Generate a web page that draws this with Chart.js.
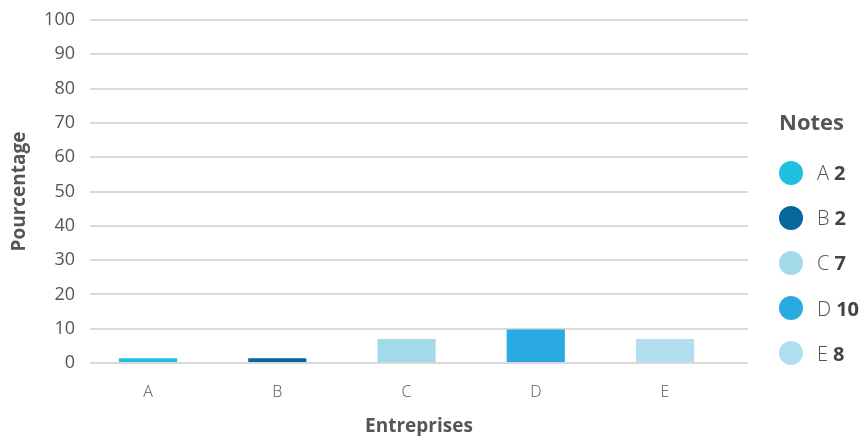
<!DOCTYPE html>
<html lang="fr">
<head>
    <meta charset="UTF-8">
    <title>Notes - Entreprises</title>
    <script src="https://cdn.jsdelivr.net/npm/chart.js"></script>
    <style>
        body { margin: 0; background: #fff; font-family: "Open Sans", sans-serif; }
        .wrap { position: relative; width: 860px; height: 436px; }
        #notes { position: absolute; left: 779px; top: 106px; color: #555; }
        #notes h3 { margin: 0 0 14px 0; font-size: 22px; font-weight: 700; color: #555; line-height: 30px; }
        .item { display: flex; align-items: center; height: 45.2px; font-size: 20px; font-weight: 300; }
        .dot { width: 24px; height: 24px; border-radius: 50%; margin-right: 14px; }
        .item b { font-weight: 700; color: #444; margin-left: 5px; }
    </style>
</head>
<body>
<div class="wrap">
    <canvas id="chart" width="860" height="436"></canvas>
    <div id="notes"><h3>Notes</h3></div>
</div>
<script>
    const categories = ['A', 'B', 'C', 'D', 'E'];
    const percentages = [1.4, 1.4, 7, 9.8, 7];
    const notes = [2, 2, 7, 10, 8];
    const colors = ['#1fc0dd', '#05679a', '#a3d9e8', '#29abe2', '#b2dff0'];
    const yTicks = [0, 10, 20, 30, 40, 50, 60, 70, 80, 90, 100];

    // legend built from the same arrays
    const box = document.getElementById('notes');
    categories.forEach((c, i) => {
        const row = document.createElement('div');
        row.className = 'item';
        row.innerHTML = `<span class="dot" style="background:${colors[i]}"></span>${c}<b>${notes[i]}</b>`;
        box.appendChild(row);
    });

    const txt = '#555';

    new Chart(document.getElementById('chart'), {
        type: 'bar',
        data: {
            datasets: [{
                data: percentages.map((v, i) => ({ x: i, y: v })),
                backgroundColor: colors,
                barPercentage: 0.45,
                categoryPercentage: 1
            }]
        },
        options: {
            responsive: false,
            animation: false,
            layout: { padding: { left: 0, right: 112, top: 20, bottom: 0 } },
            plugins: { legend: { display: false }, tooltip: { enabled: false } },
            scales: {
                x: {
                    type: 'linear',
                    min: -0.449,
                    max: 4.642,
                    offset: false,
                    afterBuildTicks: s => { s.ticks = categories.map((c, i) => ({ value: i })); },
                    afterFit: s => { s.height = 73; s.paddingLeft = 0; s.paddingRight = 0; },
                    grid: { display: false, drawTicks: false },
                    border: { display: false },
                    ticks: {
                        callback: v => categories[v],
                        color: txt,
                        padding: 20,
                        maxRotation: 0,
                        font: { family: 'Open Sans', size: 16, weight: 300 }
                    },
                    title: {
                        display: true,
                        text: 'Entreprises',
                        color: txt,
                        padding: { top: 0, bottom: -2 },
                        font: { family: 'Open Sans', size: 19, weight: 'bold' }
                    }
                },
                y: {
                    min: 0,
                    max: 100,
                    afterBuildTicks: s => { s.ticks = yTicks.map(v => ({ value: v })); },
                    afterFit: s => { s.width = 90; s.paddingTop = 0; s.paddingBottom = 0; },
                    grid: { color: '#d9d9d9', lineWidth: 2, drawTicks: false },
                    border: { display: false },
                    ticks: {
                        color: txt,
                        padding: 15,
                        font: { family: 'Open Sans', size: 18, weight: 400 }
                    },
                    title: {
                        display: true,
                        text: 'Pourcentage',
                        color: txt,
                        padding: { top: 8, bottom: 0 },
                        font: { family: 'Open Sans', size: 19, weight: 'bold' }
                    }
                }
            }
        }
    });
</script>
</body>
</html>
